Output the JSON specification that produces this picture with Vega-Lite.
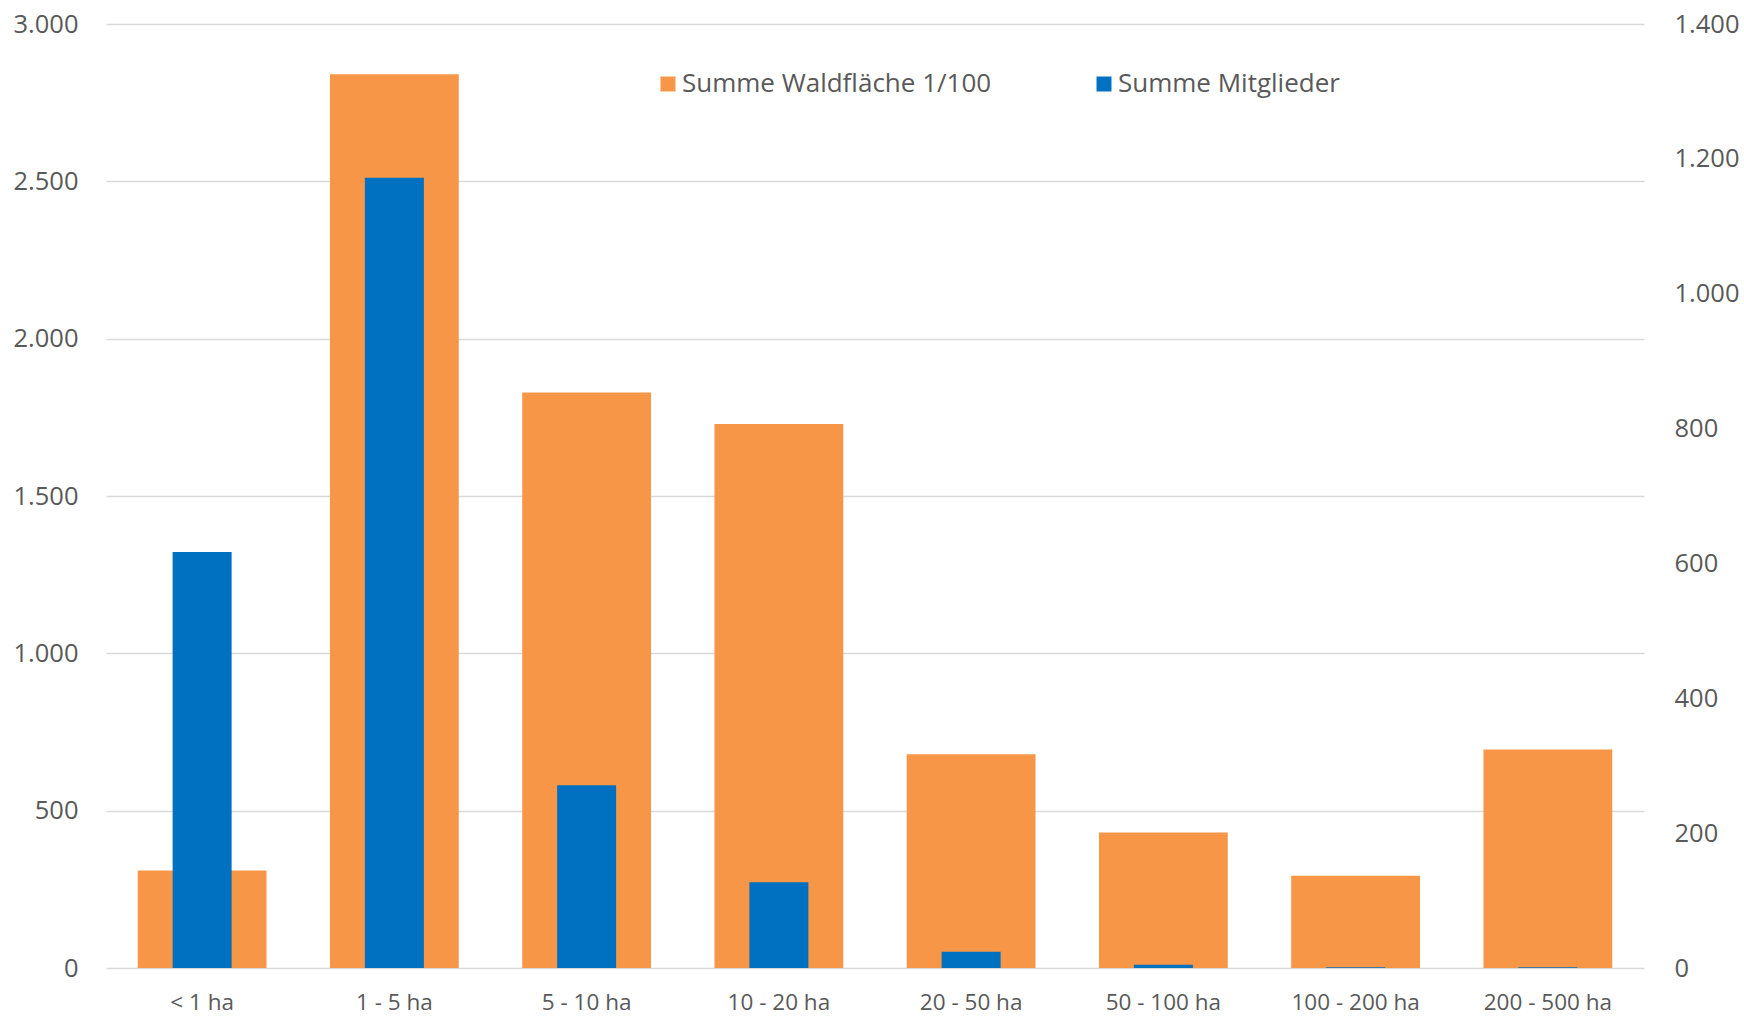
{
  "$schema": "https://vega.github.io/schema/vega-lite/v6.json",
  "width": 1538,
  "height": 944,
  "autosize": {"type": "none"},
  "padding": {"left": 106, "top": 24, "right": 100, "bottom": 49},
  "background": "white",
  "config": {
    "locale": {"number": {"decimal": ",", "thousands": ".", "grouping": [3], "currency": ["", " €"]}},
    "view": {"stroke": null},
    "font": "Open Sans"
  },
  "data": {
    "values": [
      {"kat": "< 1 ha", "serie": "Summe Waldfläche 1/100", "wert": 310},
      {"kat": "1 - 5 ha", "serie": "Summe Waldfläche 1/100", "wert": 2840},
      {"kat": "5 - 10 ha", "serie": "Summe Waldfläche 1/100", "wert": 1829},
      {"kat": "10 - 20 ha", "serie": "Summe Waldfläche 1/100", "wert": 1729},
      {"kat": "20 - 50 ha", "serie": "Summe Waldfläche 1/100", "wert": 679},
      {"kat": "50 - 100 ha", "serie": "Summe Waldfläche 1/100", "wert": 431},
      {"kat": "100 - 200 ha", "serie": "Summe Waldfläche 1/100", "wert": 293},
      {"kat": "200 - 500 ha", "serie": "Summe Waldfläche 1/100", "wert": 694},
      {"kat": "< 1 ha", "serie": "Summe Mitglieder", "wert": 617},
      {"kat": "1 - 5 ha", "serie": "Summe Mitglieder", "wert": 1172},
      {"kat": "5 - 10 ha", "serie": "Summe Mitglieder", "wert": 271},
      {"kat": "10 - 20 ha", "serie": "Summe Mitglieder", "wert": 127},
      {"kat": "20 - 50 ha", "serie": "Summe Mitglieder", "wert": 24},
      {"kat": "50 - 100 ha", "serie": "Summe Mitglieder", "wert": 5},
      {"kat": "100 - 200 ha", "serie": "Summe Mitglieder", "wert": 1},
      {"kat": "200 - 500 ha", "serie": "Summe Mitglieder", "wert": 1}
    ]
  },
  "encoding": {
    "x": {
      "field": "kat",
      "type": "nominal",
      "sort": ["< 1 ha", "1 - 5 ha", "5 - 10 ha", "10 - 20 ha", "20 - 50 ha", "50 - 100 ha", "100 - 200 ha", "200 - 500 ha"],
      "scale": {"paddingInner": 0.33, "paddingOuter": 0.165},
      "axis": {
        "title": null,
        "labelAngle": 0,
        "labelFontSize": 22.5,
        "labelColor": "#595959",
        "labelPadding": 23,
        "ticks": false,
        "domain": false,
        "grid": false
      }
    }
  },
  "layer": [
    {
      "transform": [{"filter": "datum.serie == 'Summe Waldfläche 1/100'"}],
      "mark": {"type": "bar"},
      "encoding": {
        "y": {
          "field": "wert",
          "type": "quantitative",
          "scale": {"domain": [0, 3000], "nice": false},
          "axis": {
            "title": null,
            "orient": "left",
            "values": [0, 500, 1000, 1500, 2000, 2500, 3000],
            "format": ",d",
            "labelFontSize": 25.5,
            "labelColor": "#595959",
            "labelPadding": 28,
            "ticks": false,
            "domain": false,
            "grid": true,
            "gridColor": "#D9D9D9",
            "gridWidth": 1.5
          }
        },
        "color": {
          "field": "serie",
          "type": "nominal",
          "scale": {"domain": ["Summe Waldfläche 1/100", "Summe Mitglieder"], "range": ["#F79646", "#0070C0"]},
          "legend": {
            "title": null,
            "orient": "none",
            "legendX": 549,
            "legendY": 47,
            "direction": "horizontal",
            "symbolType": "square",
            "symbolSize": 225,
            "symbolStrokeWidth": 0,
            "labelFontSize": 26,
            "labelLimit": 0,
            "labelColor": "#595959",
            "labelOffset": 1,
            "columnPadding": 99
          }
        }
      }
    },
    {
      "transform": [{"filter": "datum.serie == 'Summe Mitglieder'"}],
      "mark": {"type": "bar", "width": {"band": 0.458}},
      "encoding": {
        "y": {
          "field": "wert",
          "type": "quantitative",
          "scale": {"domain": [0, 1400], "nice": false},
          "axis": {
            "title": null,
            "orient": "right",
            "values": [0, 200, 400, 600, 800, 1000, 1200, 1400],
            "format": ",d",
            "labelFontSize": 25.5,
            "labelColor": "#595959",
            "labelPadding": 30,
            "ticks": false,
            "domain": false,
            "grid": false
          }
        },
        "color": {
          "field": "serie",
          "type": "nominal",
          "scale": {"domain": ["Summe Waldfläche 1/100", "Summe Mitglieder"], "range": ["#F79646", "#0070C0"]}
        }
      }
    }
  ],
  "resolve": {"scale": {"y": "independent"}}
}
